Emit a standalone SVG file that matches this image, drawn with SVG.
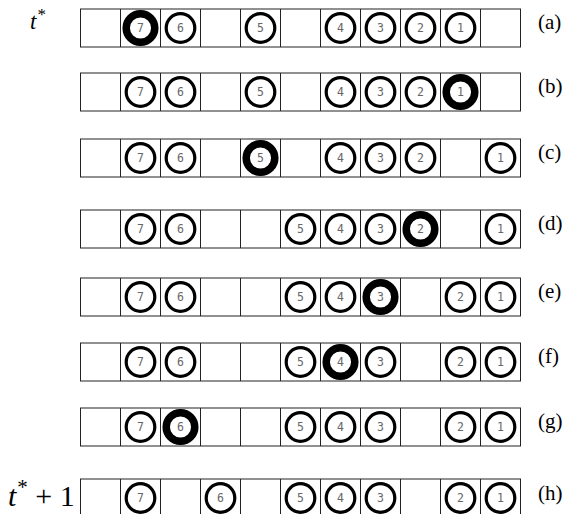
<svg xmlns="http://www.w3.org/2000/svg" width="574" height="514" viewBox="0 0 574 514">
<style>
.cells{fill:#fff;stroke:#222;stroke-width:1}
.c{fill:none;stroke:#000;stroke-width:3.2}
.k{fill:none;stroke:#000;stroke-width:7.5}
.n{font-family:"DejaVu Sans Mono","Liberation Mono",monospace;font-size:11.5px;fill:#666;text-anchor:middle}
.lab{font-family:"Liberation Serif","DejaVu Serif",serif;font-size:21px;fill:#000}
.t{font-family:"Liberation Serif","DejaVu Serif",serif;font-style:italic;fill:#000}
</style>
<defs>
<g id="row">
<rect class="cells" x="80.5" y="0.5" width="440" height="38"/>
<path class="cells" d="M120.5 0.5V38.5M160.5 0.5V38.5M200.5 0.5V38.5M240.5 0.5V38.5M280.5 0.5V38.5M320.5 0.5V38.5M360.5 0.5V38.5M400.5 0.5V38.5M440.5 0.5V38.5M480.5 0.5V38.5"/>
</g>
</defs>
<text class="t" x="30" y="29" font-size="23">t<tspan font-style="normal" font-size="17" dx="1" dy="-9">*</tspan></text>
<text class="t" x="8" y="506" font-size="30">t<tspan font-style="normal" font-size="21" dx="1" dy="-12">*</tspan><tspan font-style="normal" dy="12"> + 1</tspan></text>

<g id="row-a" transform="translate(0,8.5)">
<use href="#row"/>
<g id="a7"><circle class="k" cx="140.5" cy="19.5" r="14.3"/><text class="n" x="140.5" y="23.5">7</text></g>
<g id="a6"><circle class="c" cx="180.5" cy="19.5" r="14.3"/><text class="n" x="180.5" y="23.5">6</text></g>
<g id="a5"><circle class="c" cx="260.5" cy="19.5" r="14.3"/><text class="n" x="260.5" y="23.5">5</text></g>
<g id="a4"><circle class="c" cx="340.5" cy="19.5" r="14.3"/><text class="n" x="340.5" y="23.5">4</text></g>
<g id="a3"><circle class="c" cx="380.5" cy="19.5" r="14.3"/><text class="n" x="380.5" y="23.5">3</text></g>
<g id="a2"><circle class="c" cx="420.5" cy="19.5" r="14.3"/><text class="n" x="420.5" y="23.5">2</text></g>
<g id="a1"><circle class="c" cx="460.5" cy="19.5" r="14.3"/><text class="n" x="460.5" y="23.5">1</text></g>
<text class="lab" x="538" y="20">(a)</text>
</g>

<g id="row-b" transform="translate(0,72.5)">
<use href="#row"/>
<g id="b7"><circle class="c" cx="140.5" cy="19.5" r="14.3"/><text class="n" x="140.5" y="23.5">7</text></g>
<g id="b6"><circle class="c" cx="180.5" cy="19.5" r="14.3"/><text class="n" x="180.5" y="23.5">6</text></g>
<g id="b5"><circle class="c" cx="260.5" cy="19.5" r="14.3"/><text class="n" x="260.5" y="23.5">5</text></g>
<g id="b4"><circle class="c" cx="340.5" cy="19.5" r="14.3"/><text class="n" x="340.5" y="23.5">4</text></g>
<g id="b3"><circle class="c" cx="380.5" cy="19.5" r="14.3"/><text class="n" x="380.5" y="23.5">3</text></g>
<g id="b2"><circle class="c" cx="420.5" cy="19.5" r="14.3"/><text class="n" x="420.5" y="23.5">2</text></g>
<g id="b1"><circle class="k" cx="460.5" cy="19.5" r="14.3"/><text class="n" x="460.5" y="23.5">1</text></g>
<text class="lab" x="538" y="20">(b)</text>
</g>

<g id="row-c" transform="translate(0,138.5)">
<use href="#row"/>
<g id="c7"><circle class="c" cx="140.5" cy="19.5" r="14.3"/><text class="n" x="140.5" y="23.5">7</text></g>
<g id="c6"><circle class="c" cx="180.5" cy="19.5" r="14.3"/><text class="n" x="180.5" y="23.5">6</text></g>
<g id="c5"><circle class="k" cx="260.5" cy="19.5" r="14.3"/><text class="n" x="260.5" y="23.5">5</text></g>
<g id="c4"><circle class="c" cx="340.5" cy="19.5" r="14.3"/><text class="n" x="340.5" y="23.5">4</text></g>
<g id="c3"><circle class="c" cx="380.5" cy="19.5" r="14.3"/><text class="n" x="380.5" y="23.5">3</text></g>
<g id="c2"><circle class="c" cx="420.5" cy="19.5" r="14.3"/><text class="n" x="420.5" y="23.5">2</text></g>
<g id="c1"><circle class="c" cx="500.5" cy="19.5" r="14.3"/><text class="n" x="500.5" y="23.5">1</text></g>
<text class="lab" x="538" y="20">(c)</text>
</g>

<g id="row-d" transform="translate(0,209.5)">
<use href="#row"/>
<g id="d7"><circle class="c" cx="140.5" cy="19.5" r="14.3"/><text class="n" x="140.5" y="23.5">7</text></g>
<g id="d6"><circle class="c" cx="180.5" cy="19.5" r="14.3"/><text class="n" x="180.5" y="23.5">6</text></g>
<g id="d5"><circle class="c" cx="300.5" cy="19.5" r="14.3"/><text class="n" x="300.5" y="23.5">5</text></g>
<g id="d4"><circle class="c" cx="340.5" cy="19.5" r="14.3"/><text class="n" x="340.5" y="23.5">4</text></g>
<g id="d3"><circle class="c" cx="380.5" cy="19.5" r="14.3"/><text class="n" x="380.5" y="23.5">3</text></g>
<g id="d2"><circle class="k" cx="420.5" cy="19.5" r="14.3"/><text class="n" x="420.5" y="23.5">2</text></g>
<g id="d1"><circle class="c" cx="500.5" cy="19.5" r="14.3"/><text class="n" x="500.5" y="23.5">1</text></g>
<text class="lab" x="538" y="20">(d)</text>
</g>

<g id="row-e" transform="translate(0,277.5)">
<use href="#row"/>
<g id="e7"><circle class="c" cx="140.5" cy="19.5" r="14.3"/><text class="n" x="140.5" y="23.5">7</text></g>
<g id="e6"><circle class="c" cx="180.5" cy="19.5" r="14.3"/><text class="n" x="180.5" y="23.5">6</text></g>
<g id="e5"><circle class="c" cx="300.5" cy="19.5" r="14.3"/><text class="n" x="300.5" y="23.5">5</text></g>
<g id="e4"><circle class="c" cx="340.5" cy="19.5" r="14.3"/><text class="n" x="340.5" y="23.5">4</text></g>
<g id="e3"><circle class="k" cx="380.5" cy="19.5" r="14.3"/><text class="n" x="380.5" y="23.5">3</text></g>
<g id="e2"><circle class="c" cx="460.5" cy="19.5" r="14.3"/><text class="n" x="460.5" y="23.5">2</text></g>
<g id="e1"><circle class="c" cx="500.5" cy="19.5" r="14.3"/><text class="n" x="500.5" y="23.5">1</text></g>
<text class="lab" x="538" y="20">(e)</text>
</g>

<g id="row-f" transform="translate(0,342.5)">
<use href="#row"/>
<g id="f7"><circle class="c" cx="140.5" cy="19.5" r="14.3"/><text class="n" x="140.5" y="23.5">7</text></g>
<g id="f6"><circle class="c" cx="180.5" cy="19.5" r="14.3"/><text class="n" x="180.5" y="23.5">6</text></g>
<g id="f5"><circle class="c" cx="300.5" cy="19.5" r="14.3"/><text class="n" x="300.5" y="23.5">5</text></g>
<g id="f4"><circle class="k" cx="340.5" cy="19.5" r="14.3"/><text class="n" x="340.5" y="23.5">4</text></g>
<g id="f3"><circle class="c" cx="380.5" cy="19.5" r="14.3"/><text class="n" x="380.5" y="23.5">3</text></g>
<g id="f2"><circle class="c" cx="460.5" cy="19.5" r="14.3"/><text class="n" x="460.5" y="23.5">2</text></g>
<g id="f1"><circle class="c" cx="500.5" cy="19.5" r="14.3"/><text class="n" x="500.5" y="23.5">1</text></g>
<text class="lab" x="538" y="20">(f)</text>
</g>

<g id="row-g" transform="translate(0,407.5)">
<use href="#row"/>
<g id="g7"><circle class="c" cx="140.5" cy="19.5" r="14.3"/><text class="n" x="140.5" y="23.5">7</text></g>
<g id="g6"><circle class="k" cx="180.5" cy="19.5" r="14.3"/><text class="n" x="180.5" y="23.5">6</text></g>
<g id="g5"><circle class="c" cx="300.5" cy="19.5" r="14.3"/><text class="n" x="300.5" y="23.5">5</text></g>
<g id="g4"><circle class="c" cx="340.5" cy="19.5" r="14.3"/><text class="n" x="340.5" y="23.5">4</text></g>
<g id="g3"><circle class="c" cx="380.5" cy="19.5" r="14.3"/><text class="n" x="380.5" y="23.5">3</text></g>
<g id="g2"><circle class="c" cx="460.5" cy="19.5" r="14.3"/><text class="n" x="460.5" y="23.5">2</text></g>
<g id="g1"><circle class="c" cx="500.5" cy="19.5" r="14.3"/><text class="n" x="500.5" y="23.5">1</text></g>
<text class="lab" x="538" y="20">(g)</text>
</g>

<g id="row-h" transform="translate(0,478.5)">
<use href="#row"/>
<g id="h7"><circle class="c" cx="140.5" cy="19.5" r="14.3"/><text class="n" x="140.5" y="23.5">7</text></g>
<g id="h6"><circle class="c" cx="220.5" cy="19.5" r="14.3"/><text class="n" x="220.5" y="23.5">6</text></g>
<g id="h5"><circle class="c" cx="300.5" cy="19.5" r="14.3"/><text class="n" x="300.5" y="23.5">5</text></g>
<g id="h4"><circle class="c" cx="340.5" cy="19.5" r="14.3"/><text class="n" x="340.5" y="23.5">4</text></g>
<g id="h3"><circle class="c" cx="380.5" cy="19.5" r="14.3"/><text class="n" x="380.5" y="23.5">3</text></g>
<g id="h2"><circle class="c" cx="460.5" cy="19.5" r="14.3"/><text class="n" x="460.5" y="23.5">2</text></g>
<g id="h1"><circle class="c" cx="500.5" cy="19.5" r="14.3"/><text class="n" x="500.5" y="23.5">1</text></g>
<text class="lab" x="538" y="21">(h)</text>
</g>
</svg>
